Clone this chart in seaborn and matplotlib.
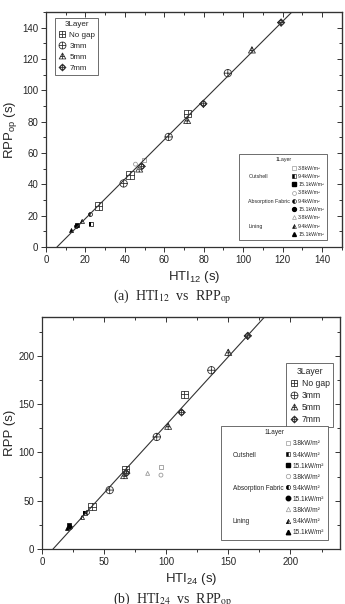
import numpy as np
import pandas as pd
import matplotlib
matplotlib.use("Agg")
import matplotlib.pyplot as plt
import seaborn as sns
from matplotlib.path import Path
from matplotlib.markers import MarkerStyle
from matplotlib.lines import Line2D
from matplotlib.ticker import MultipleLocator

# ---- data ----
gaps = ['No gap', '3mm', '5mm', '7mm']
layers = ['Outshell', 'Absorption Fabric', 'Lining']
fluxes = ['3.8kW/m²', '9.4kW/m²', '15.1kW/m²']

# (a) HTI12 vs RPPop, 3 layer (one point per heat flux)
a3_x = {'No gap': [26.7, 42.7, 71.8], '3mm': [39.4, 62.2, 92.2],
        '5mm': [47.3, 71.6, 104.4], '7mm': [48.5, 79.8, 119.2]}
a3_y = {'No gap': [26.1, 45.9, 85.2], '3mm': [40.6, 70.3, 111.0],
        '5mm': [49.5, 80.5, 125.5], '7mm': [51.5, 91.5, 143.3]}
# (a) 1 layer, order 3.8 / 9.4 / 15.1
a1_x = {'Outshell': [49.5, 22.8, 16.0], 'Absorption Fabric': [45.4, 22.4, 15.3],
        'Lining': [47.0, 18.2, 12.8]}
a1_y = {'Outshell': [55.4, 14.6, 13.8], 'Absorption Fabric': [52.9, 21.0, 13.6],
        'Lining': [51.0, 16.8, 11.0]}
fit_a = (1.26, 5.6)   # slope, x-intercept

# (b) HTI24 vs RPP
b3_x = {'No gap': [40.2, 67.2, 114.4], '3mm': [54.4, 92.3, 136.3],
        '5mm': [66.0, 101.5, 149.9], '7mm': [67.8, 112.3, 165.6]}
b3_y = {'No gap': [43.8, 82.4, 160.0], '3mm': [61.0, 116.0, 185.0],
        '5mm': [75.5, 126.5, 203.0], '7mm': [78.5, 141.4, 220.6]}
b1_x = {'Outshell': [95.7, 34.4, 21.8], 'Absorption Fabric': [95.7, 36.5, 22.6],
        'Lining': [85.0, 31.8, 19.8]}
b1_y = {'Outshell': [85.0, 36.9, 24.8], 'Absorption Fabric': [76.5, 38.5, 23.0],
        'Lining': [78.3, 33.4, 21.4]}
fit_b = (1.41, 8.8)

sns.set_style('ticks')
plt.rcParams['font.family'] = ['Liberation Sans', 'DejaVu Sans']
plt.rcParams['mathtext.fontset'] = 'custom'
plt.rcParams['mathtext.rm'] = 'Liberation Sans'
plt.rcParams['mathtext.it'] = 'Liberation Sans:italic'


# crossed marker shapes
def crossed(base, top=1.0, bot=-1.0, half=1.0):
    cross = Path([(-half, 0), (half, 0), (0, bot), (0, top)],
                 [Path.MOVETO, Path.LINETO, Path.MOVETO, Path.LINETO])
    return Path.make_compound_path(base, cross)


sq = Path([(-0.85, -0.85), (0.85, -0.85), (0.85, 0.85), (-0.85, 0.85), (-0.85, -0.85)],
          [Path.MOVETO, Path.LINETO, Path.LINETO, Path.LINETO, Path.CLOSEPOLY])
tri = Path([(0, 1.0), (-0.95, -0.7), (0.95, -0.7), (0, 1.0)],
           [Path.MOVETO, Path.LINETO, Path.LINETO, Path.CLOSEPOLY])
dia = Path([(0, 1), (1, 0), (0, -1), (-1, 0), (0, 1)],
           [Path.MOVETO, Path.LINETO, Path.LINETO, Path.LINETO, Path.CLOSEPOLY])
gap_marker = {'No gap': crossed(sq, 0.85, -0.85, 0.85),
              '3mm': crossed(Path.unit_circle()),
              '5mm': crossed(tri, 1.0, -0.7, 0.5),
              '7mm': Path.make_compound_path(dia, Path.circle((0, 0), 0.6),
                                             Path([(-1, 0), (1, 0), (0, -1), (0, 1)],
                                                  [Path.MOVETO, Path.LINETO, Path.MOVETO, Path.LINETO]))}
layer_marker = {'Outshell': 's', 'Absorption Fabric': 'o', 'Lining': '^'}
gray = '#9a9a9a'


def draw(ax, x3, y3, x1, y1, fit, xmax, ymax, size3, size1):
    slope, x0 = fit
    xs = np.array([x0, x0 + ymax / slope])
    sns.lineplot(x=xs, y=slope * (xs - x0), color='#333333', lw=0.8, ax=ax)
    for g in gaps:
        sns.scatterplot(x=x3[g], y=y3[g], marker=gap_marker[g], s=size3,
                        facecolor='none', edgecolor='#333333', linewidth=0.6, ax=ax)
    for l in layers:
        m = layer_marker[l]
        xx, yy = x1[l], y1[l]
        sns.scatterplot(x=xx[:1], y=yy[:1], marker=m, s=size1, facecolor='none',
                        edgecolor=gray, linewidth=0.6, ax=ax)
        sns.scatterplot(x=xx[1:2], y=yy[1:2], marker=m, s=size1, facecolor='white',
                        edgecolor='black', linewidth=0.5, ax=ax)
        sns.scatterplot(x=xx[1:2], y=yy[1:2], marker=MarkerStyle(m, fillstyle='left'),
                        s=size1, color='black', linewidth=0, ax=ax)
        sns.scatterplot(x=xx[2:], y=yy[2:], marker=m, s=size1, color='black',
                        edgecolor='black', linewidth=0.5, ax=ax)
    ax.set_xlim(0, xmax)
    ax.set_ylim(0, ymax)
    for sp in ax.spines.values():
        sp.set_linewidth(0.9)
        sp.set_color('#333333')
    ax.tick_params(axis='both', which='both', labelsize=7, direction='out', width=0.7,
                   color='#333333', pad=2)
    ax.tick_params(which='major', length=3.5)
    ax.tick_params(which='minor', length=2)
    ax2 = ax.secondary_xaxis('top')
    ax2.set_xticks(ax.get_xticks())
    ax2.xaxis.set_minor_locator(ax.xaxis.get_minor_locator())
    ax2.tick_params(which='both', direction='in', labeltop=False, width=0.7, color='#333333')
    ax2.tick_params(which='major', length=3.5)
    ax2.tick_params(which='minor', length=2)
    ax3 = ax.secondary_yaxis('right')
    ax3.set_yticks(ax.get_yticks())
    ax3.yaxis.set_minor_locator(ax.yaxis.get_minor_locator())
    ax3.tick_params(which='both', direction='in', labelright=False, width=0.7, color='#333333')
    ax3.tick_params(which='major', length=3.5)
    ax3.tick_params(which='minor', length=2)


def legends(ax, fs3, fs1, size3, size1, loc3, anchor3, anchor1, rowsp3, rowsp1):
    h3 = [Line2D([], [], ls='none', marker=gap_marker[g], markersize=size3,
                 markerfacecolor='none', markeredgecolor='#333333', markeredgewidth=0.6)
          for g in gaps]
    leg3 = ax.legend(h3, gaps, title='3Layer', loc=loc3, bbox_to_anchor=anchor3,
                     fontsize=fs3, title_fontsize=fs3, fancybox=False, framealpha=1,
                     edgecolor='#555555', handlelength=1.0, handletextpad=0.4,
                     labelspacing=rowsp3, borderpad=0.4, borderaxespad=0)
    leg3.get_frame().set_linewidth(0.6)
    ax.add_artist(leg3)
    blanks = [Line2D([], [], ls='none') for _ in range(9)]
    left = ['', 'Outshell', '', '', 'Absorption Fabric', '', '', 'Lining', '']
    h1, lab1 = [], []
    for l in layers:
        m = layer_marker[l]
        h1.append(Line2D([], [], ls='none', marker=m, markersize=size1,
                         markerfacecolor='none', markeredgecolor=gray, markeredgewidth=0.5))
        h1.append(Line2D([], [], ls='none', marker=m, markersize=size1, fillstyle='left',
                         markerfacecolor='black', markerfacecoloralt='white',
                         markeredgecolor='black', markeredgewidth=0.4))
        h1.append(Line2D([], [], ls='none', marker=m, markersize=size1,
                         markerfacecolor='black', markeredgecolor='black'))
        lab1 += fluxes
    leg1 = ax.legend(blanks + h1, left + lab1, ncol=2, title='1Layer', loc='lower right',
                     bbox_to_anchor=anchor1, fontsize=fs1, title_fontsize=fs1,
                     fancybox=False, framealpha=1, edgecolor='#555555',
                     handlelength=0.8, handletextpad=0.3, columnspacing=0.4,
                     labelspacing=rowsp1, borderpad=0.6, borderaxespad=0)
    leg1.get_frame().set_linewidth(0.6)


fig = plt.figure(figsize=(3.45, 6.04), dpi=100)
ax_a = fig.add_axes([0.133, 0.591, 0.858, 0.389])
ax_a.xaxis.set_major_locator(MultipleLocator(20))
ax_a.xaxis.set_minor_locator(MultipleLocator(10))
ax_a.yaxis.set_major_locator(MultipleLocator(20))
ax_a.yaxis.set_minor_locator(MultipleLocator(10))
draw(ax_a, a3_x, a3_y, a1_x, a1_y, fit_a, 150, 150, 28, 8)
legends(ax_a, 5.8, 3.8, 5.0, 2.8, 'upper left', (0.03, 0.975), (0.95, 0.03), 0.4, 0.62)
ax_a.set_xlabel('HTI$_{12}$ (s)', fontsize=9.5, labelpad=3)
ax_a.set_ylabel('RPP$_{\\mathrm{op}}$ (s)', fontsize=9.5, labelpad=2)

ax_b = fig.add_axes([0.122, 0.091, 0.864, 0.384])
ax_b.xaxis.set_major_locator(MultipleLocator(50))
ax_b.xaxis.set_minor_locator(MultipleLocator(25))
ax_b.yaxis.set_major_locator(MultipleLocator(50))
ax_b.yaxis.set_minor_locator(MultipleLocator(25))
draw(ax_b, b3_x, b3_y, b1_x, b1_y, fit_b, 240, 240, 28, 8)
legends(ax_b, 6.2, 4.7, 5.0, 3.2, 'upper right', (0.977, 0.80), (0.96, 0.04), 0.35, 0.62)
ax_b.set_xlabel('HTI$_{24}$ (s)', fontsize=9.5, labelpad=3)
ax_b.set_ylabel('RPP (s)', fontsize=9.5, labelpad=2)

fig.text(0.5, 1 - 297 / 604, '(a)  HTI$_{12}$  vs  RPP$_{\\mathrm{op}}$', ha='center',
         va='center', fontsize=10, family='Liberation Serif', math_fontfamily='stix')
fig.text(0.5, 1 - 600 / 604, '(b)  HTI$_{24}$  vs  RPP$_{\\mathrm{op}}$', ha='center',
         va='center', fontsize=10, family='Liberation Serif', math_fontfamily='stix')

fig.savefig('out.png', dpi=100)
